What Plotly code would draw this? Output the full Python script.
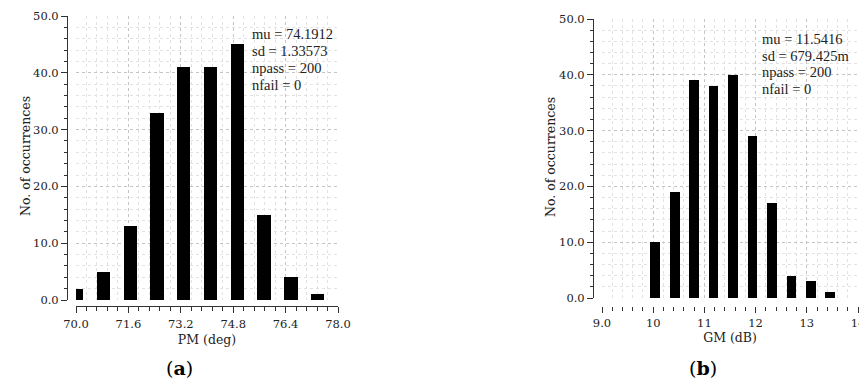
import plotly.graph_objects as go

# ---------------- data ----------------
pm_bin_centers = [70.02, 70.84, 71.66, 72.47, 73.29, 74.11, 74.93, 75.74, 76.56, 77.38]
pm_counts = [2, 5, 13, 33, 41, 41, 45, 15, 4, 1]
pm_tickvals = [70.0, 71.6, 73.2, 74.8, 76.4, 78.0]
pm_ticktext = ["70.0", "71.6", "73.2", "74.8", "76.4", "78.0"]
pm_stats = ["mu = 74.1912", "sd = 1.33573", "npass = 200", "nfail = 0"]

gm_bin_centers = [10.04, 10.42, 10.80, 11.18, 11.56, 11.94, 12.32, 12.70, 13.08, 13.46]
gm_counts = [10, 19, 39, 38, 40, 29, 17, 4, 3, 1]
gm_tickvals = [9, 10, 11, 12, 13, 14]
gm_ticktext = ["9.0", "10", "11", "12", "13", "14"]
gm_stats = ["mu = 11.5416", "sd = 679.425m", "npass = 200", "nfail = 0"]

y_tickvals = [0, 10, 20, 30, 40, 50]
y_ticktext = ["0.0", "10.0", "20.0", "30.0", "40.0", "50.0"]
y_title = "No. of occurrences"

W, H = 859, 385
def px(x):
    return x / W
def py(y):
    return (H - y) / H

TICKFONT = dict(family="DejaVu Serif", size=11.5, color="#222")
TITLEFONT = dict(family="DejaVu Serif", size=12.5, color="#222")
STATFONT = dict(family="Liberation Serif", size=14.5, color="#222")
MAJ_GRID = "#c4c4c4"
MIN_GRID = "#e2e2e2"

fig = go.Figure()
fig.add_trace(go.Bar(x=pm_bin_centers, y=pm_counts, width=0.41, marker=dict(color="black", line=dict(width=0)),
                     xaxis="x", yaxis="y", showlegend=False))
fig.add_trace(go.Bar(x=gm_bin_centers, y=gm_counts, width=0.19, marker=dict(color="black", line=dict(width=0)),
                     xaxis="x2", yaxis="y2", showlegend=False))

def grid_x(rng, domain, dtick, mdtick, tick0):
    return dict(range=rng, domain=domain, showticklabels=False, ticks="", showline=False, zeroline=False,
                showgrid=True, gridcolor=MAJ_GRID, griddash="dot", gridwidth=1, dtick=dtick, tick0=tick0,
                minor=dict(showgrid=True, gridcolor=MIN_GRID, griddash="dot", dtick=mdtick, tick0=tick0),
                fixedrange=True, automargin=False)

def grid_y(domain):
    return dict(range=[0, 50], domain=domain, showticklabels=False, ticks="", showline=False, zeroline=False,
                showgrid=True, gridcolor=MAJ_GRID, griddash="dot", gridwidth=1, dtick=10, tick0=0,
                minor=dict(showgrid=True, gridcolor=MIN_GRID, griddash="dot", dtick=2, tick0=0),
                fixedrange=True, automargin=False)

ax_a_dom = [px(76), px(338)]
ay_a_dom = [py(300), py(16)]
ax_b_dom = [px(602), px(858)]
ay_b_dom = [py(298), py(19)]

layout = dict(
    width=W, height=H, autosize=False, margin=dict(l=0, r=0, t=0, b=0, pad=0),
    paper_bgcolor="white", plot_bgcolor="white", bargap=0,
    xaxis=grid_x([70, 78], ax_a_dom, 1.6, 0.32, 70),
    yaxis=dict(grid_y(ay_a_dom), anchor="x"),
    xaxis2=dict(grid_x([9, 14], ax_b_dom, 1, 0.2, 9), anchor="y2"),
    yaxis2=dict(grid_y(ay_b_dom), anchor="x2"),
    # visible offset axes panel a
    xaxis3=dict(overlaying="x", matches="x", anchor="free", position=py(306), showgrid=False, zeroline=False,
                showline=True, linecolor="#333", linewidth=1, ticks="outside", ticklen=6, tickcolor="#333",
                tickvals=pm_tickvals, ticktext=pm_ticktext, tickfont=TICKFONT, ticklabelstandoff=1,
                minor=dict(ticks="outside", ticklen=4, dtick=0.32, tick0=70, tickcolor="#333", showgrid=False),
                title=dict(text="PM (deg)", font=TITLEFONT, standoff=5), fixedrange=True, automargin=False),
    yaxis3=dict(overlaying="y", matches="y", anchor="free", position=px(67), showgrid=False, zeroline=False,
                showline=True, linecolor="#333", linewidth=1, ticks="outside", ticklen=6, tickcolor="#333",
                tickvals=y_tickvals, ticktext=y_ticktext, tickfont=TICKFONT, ticklabelstandoff=0,
                minor=dict(ticks="outside", ticklen=3, dtick=2, tick0=0, tickcolor="#333", showgrid=False),
                fixedrange=True, automargin=False),
    # visible offset axes panel b
    xaxis4=dict(overlaying="x2", matches="x2", anchor="free", position=py(306), showgrid=False, zeroline=False,
                showline=False, ticks="outside", ticklen=6, tickcolor="#333",
                tickvals=gm_tickvals, ticktext=gm_ticktext, tickfont=TICKFONT, ticklabelstandoff=0,
                ticklabeloverflow="allow",
                minor=dict(ticks="outside", ticklen=4, dtick=0.2, tick0=9, tickcolor="#333", showgrid=False),
                title=dict(text="GM (dB)", font=TITLEFONT, standoff=1), fixedrange=True, automargin=False),
    yaxis4=dict(overlaying="y2", matches="y2", anchor="free", position=px(593), showgrid=False, zeroline=False,
                showline=True, linecolor="#333", linewidth=1, ticks="outside", ticklen=6, tickcolor="#333",
                tickvals=y_tickvals, ticktext=y_ticktext, tickfont=TICKFONT, ticklabelstandoff=0,
                minor=dict(ticks="outside", ticklen=3, dtick=2, tick0=0, tickcolor="#333", showgrid=False),
                fixedrange=True, automargin=False),
)
fig.update_layout(**layout)

# invisible traces so the overlay axes render
fig.add_trace(go.Scatter(x=[70], y=[0], xaxis="x3", yaxis="y3", mode="markers", marker=dict(opacity=0),
                         showlegend=False, hoverinfo="skip"))
fig.add_trace(go.Scatter(x=[9], y=[0], xaxis="x4", yaxis="y4", mode="markers", marker=dict(opacity=0),
                         showlegend=False, hoverinfo="skip"))

annots = []
for i, t in enumerate(pm_stats):
    annots.append(dict(text=t, x=px(250), y=py(34 + 17 * i), xref="paper", yref="paper", xanchor="left",
                       yanchor="middle", showarrow=False, font=STATFONT))
for i, t in enumerate(gm_stats):
    annots.append(dict(text=t, x=px(760), y=py(39 + 16.7 * i), xref="paper", yref="paper", xanchor="left",
                       yanchor="middle", showarrow=False, font=STATFONT))
# y-axis titles
annots.append(dict(text=y_title, x=px(25), y=py(156), xref="paper", yref="paper", xanchor="center",
                   yanchor="middle", textangle=-90, showarrow=False, font=TITLEFONT))
annots.append(dict(text=y_title, x=px(550), y=py(157), xref="paper", yref="paper", xanchor="center",
                   yanchor="middle", textangle=-90, showarrow=False, font=TITLEFONT))
annots.append(dict(text="(<b>a</b>)", x=px(179), y=py(368), xref="paper", yref="paper", xanchor="center",
                   yanchor="middle", showarrow=False, font=dict(family="DejaVu Serif", size=19, color="black")))
annots.append(dict(text="(<b>b</b>)", x=px(703), y=py(368), xref="paper", yref="paper", xanchor="center",
                   yanchor="middle", showarrow=False, font=dict(family="DejaVu Serif", size=19, color="black")))
fig.update_layout(annotations=annots)

fig.write_html("out.html", config=dict(displayModeBar=False))
